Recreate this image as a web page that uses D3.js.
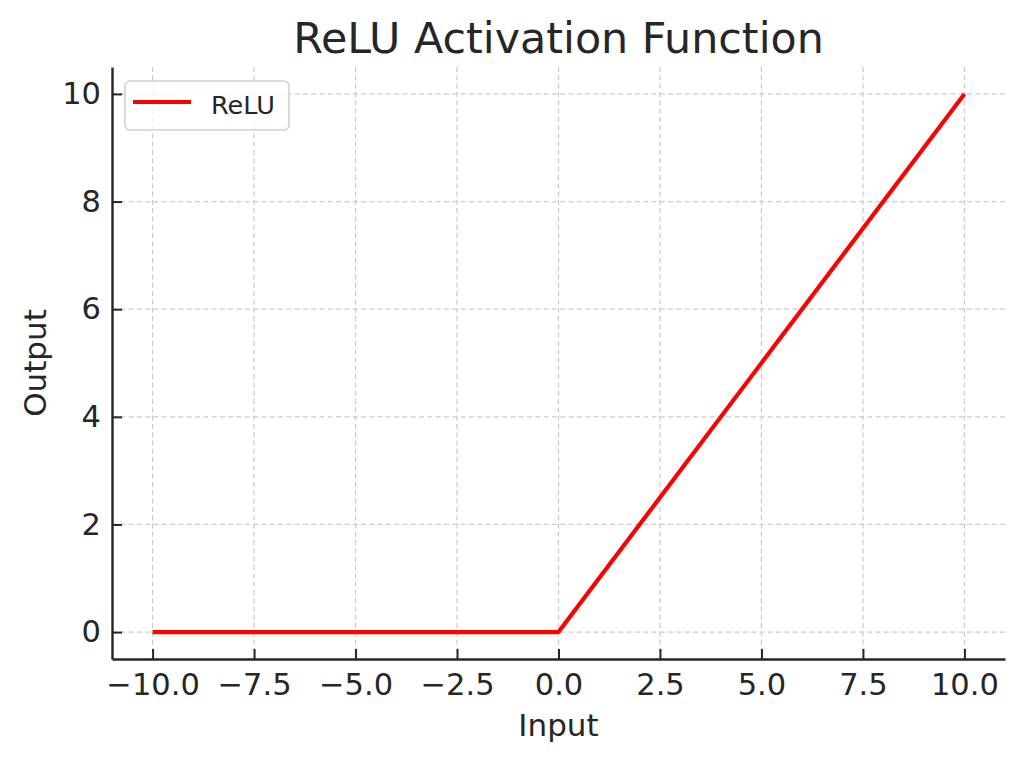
<!DOCTYPE html>
<html><head><meta charset="utf-8">
<script src="https://cdn.jsdelivr.net/npm/d3@7"></script>
<style>body{margin:0;background:#fff}text{font-family:"DejaVu Sans",sans-serif;fill:#262626}</style>
</head><body><svg id="c" width="1024" height="762"></svg>
<script>
const xInputs = [-10, 0, 10];
const yOutputs = [0, 0, 10];
const xTicks = [-10, -7.5, -5, -2.5, 0, 2.5, 5, 7.5, 10];
const yTicks = [0, 2, 4, 6, 8, 10];
const seriesName = "ReLU";
const title = "ReLU Activation Function";

const svg = d3.select("#c");
const L = 112, R = 1005, T = 67, B = 659;
const x = d3.scaleLinear().domain([-11, 11]).range([L, R]);
const y = d3.scaleLinear().domain([-0.5, 10.5]).range([B, T]);

// grid
const g = svg.append("g");
g.selectAll(".gx").data(xTicks).enter().append("line")
  .attr("x1", d => x(d)).attr("x2", d => x(d)).attr("y1", T).attr("y2", B)
  .attr("stroke", "#cccccc").attr("stroke-width", 1.3).attr("stroke-dasharray", "5,3.3");
g.selectAll(".gy").data(yTicks).enter().append("line")
  .attr("y1", d => y(d)).attr("y2", d => y(d)).attr("x1", L).attr("x2", R)
  .attr("stroke", "#cccccc").attr("stroke-width", 1.3).attr("stroke-dasharray", "5,3.3");

// axes
const fmtX = d => d3.format(".1f")(d).replace("-", "\u2212");
const xa = svg.append("g").attr("transform", `translate(0,${B})`)
  .call(d3.axisBottom(x).tickValues(xTicks).tickFormat(fmtX).tickSizeInner(-10).tickSizeOuter(0).tickPadding(14));
const ya = svg.append("g").attr("transform", `translate(${L},0)`)
  .call(d3.axisLeft(y).tickValues(yTicks).tickFormat(d3.format("d")).tickSizeInner(-10).tickSizeOuter(0).tickPadding(11));
[xa, ya].forEach(a => {
  a.select(".domain").attr("stroke", "#262626").attr("stroke-width", 2.4);
  a.selectAll(".tick line").attr("stroke", "#262626").attr("stroke-width", 2);
  a.selectAll(".tick text").attr("font-size", 30.5).attr("fill", "#262626").style("font-family", "DejaVu Sans");
});
xa.selectAll(".tick text").attr("y", 36).attr("dy", "0");

// line
const line = d3.line().x((d, i) => x(xInputs[i])).y(d => y(d));
svg.append("path").datum(yOutputs).attr("d", line)
  .attr("fill", "none").attr("stroke", "#ff0000").attr("stroke-width", 4.2).attr("stroke-linejoin", "round");

// title and labels
svg.append("text").attr("x", (L + R) / 2).attr("y", 53).attr("text-anchor", "middle")
  .attr("font-size", 42.8).attr("fill", "#333").text(title);
svg.append("text").attr("x", (L + R) / 2).attr("y", 736).attr("text-anchor", "middle")
  .attr("font-size", 31).text("Input");
svg.append("text").attr("transform", `translate(46,${(T + B) / 2}) rotate(-90)`).attr("text-anchor", "middle")
  .attr("font-size", 31).text("Output");

// legend
const lg = svg.append("g");
lg.append("rect").attr("x", 125).attr("y", 81).attr("width", 164).attr("height", 49).attr("rx", 5)
  .attr("fill", "#fff").attr("fill-opacity", 0.8).attr("stroke", "#d0d0d0").attr("stroke-width", 1.6);
lg.append("line").attr("x1", 133).attr("x2", 191).attr("y1", 102).attr("y2", 102)
  .attr("stroke", "#ff0000").attr("stroke-width", 4.2);
lg.append("text").attr("x", 211).attr("y", 114).attr("font-size", 25.5).attr("fill", "#333").text(seriesName);
</script></body></html>
